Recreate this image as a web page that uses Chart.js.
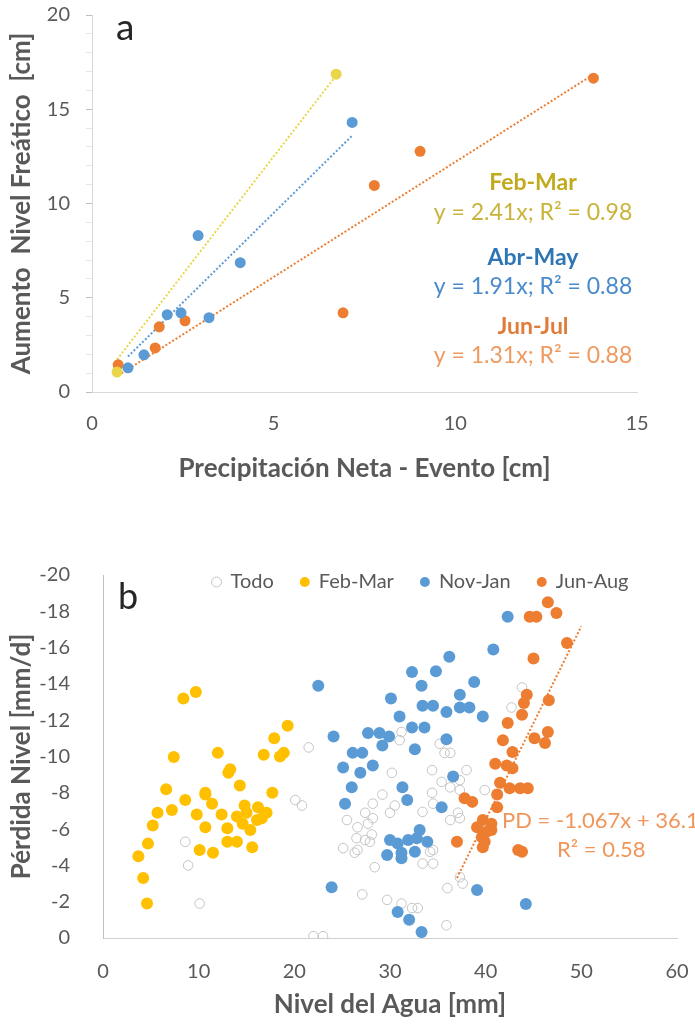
<!DOCTYPE html>
<html lang="es">
<head>
<meta charset="utf-8">
<title>Nivel freático</title>
<script src="https://cdn.jsdelivr.net/npm/chart.js@4.4.1/dist/chart.umd.min.js"></script>
<style>
    html, body { margin: 0; padding: 0; background: #fff; overflow: hidden; }
    #cajaA { position: absolute; left: 0; top: 0; width: 695px; height: 510px; }
    #cajaB { position: absolute; left: 0; top: 510px; width: 695px; height: 520px; }
</style>
</head>
<body>
<div id="cajaA"><canvas id="graficoA"></canvas></div>
<div id="cajaB"><canvas id="graficoB"></canvas></div>
<script>
// ---- Panel a: precipitación neta vs aumento del nivel ----
const febMarX = [0.69, 6.72];
const febMarY = [1.06, 16.86];
const abrMayX = [0.99, 1.43, 2.07, 2.45, 3.22, 2.92, 4.08, 7.16];
const abrMayY = [1.28, 1.97, 4.1, 4.2, 3.94, 8.3, 6.86, 14.3];
const junJulX = [0.72, 1.74, 1.85, 2.56, 6.91, 7.77, 9.03, 13.8];
const junJulY = [1.44, 2.34, 3.46, 3.78, 4.2, 10.96, 12.77, 16.65];
const seriesA = ['Feb-Mar', 'Abr-May', 'Jun-Jul'];
const ecuacionesA = ['y = 2.41x; R² = 0.98', 'y = 1.91x; R² = 0.88', 'y = 1.31x; R² = 0.88'];
const ticksXa = [0, 5, 10, 15];
const ticksYa = [0, 5, 10, 15, 20];

// ---- Panel b: nivel del agua vs pérdida de nivel ----
const todoX = [8.6, 8.9, 10.1, 22.0, 23.0, 21.5, 20.1, 20.8, 25.5, 27.1, 29.7, 28.4, 25.1, 26.6, 26.3,
    31.0, 35.2, 35.7, 36.3, 30.2, 34.4, 38.0, 35.4, 36.3, 34.4, 37.3, 29.2, 28.2, 30.0, 33.4,
    34.5, 27.4, 27.7, 26.6, 28.2, 36.3, 37.3, 34.5, 43.8, 42.7, 31.2, 37.3, 30.5, 37.1, 39.9,
    26.5, 27.4, 27.9, 34.2, 33.4, 34.5, 37.3, 36.0, 37.6, 31.2, 32.3, 32.9, 35.9, 28.1];
const todoY = [-5.3, -4.0, -1.9, -0.1, -0.1, -10.5, -7.6, -7.3, -6.5, -2.4, -2.1, -3.9, -4.95, -4.85, -4.7,
    -10.9, -10.7, -10.2, -10.2, -9.1, -9.25, -9.25, -8.6, -8.3, -8.0, -8.15, -7.9, -7.4, -6.9, -6.95,
    -7.4, -6.9, -6.3, -6.1, -6.6, -6.5, -6.6, -4.85, -13.8, -12.7, -11.35, -8.7, -7.3, -6.9, -8.15,
    -5.5, -5.4, -5.3, -4.75, -4.1, -4.1, -3.35, -2.75, -3.0, -1.9, -1.65, -1.65, -0.7, -5.7];
const febMarBX = [8.4, 9.7, 19.3, 17.9, 7.4, 12.0, 16.8, 18.9, 18.5, 13.3, 13.1, 14.3, 6.6, 17.7, 10.7,
    8.6, 10.7, 11.4, 7.2, 5.7, 9.8, 12.4, 14.0, 15.0, 16.2, 17.1, 5.2, 10.7, 13.0, 14.6,
    16.1, 4.7, 13.0, 14.0, 15.6, 10.1, 11.5, 3.7, 4.2, 4.6, 15.4, 16.6, 14.8];
const febMarBY = [-13.2, -13.55, -11.7, -11.0, -9.97, -10.2, -10.1, -10.2, -10.0, -9.3, -9.1, -8.4, -8.2, -8.0, -8.0,
    -7.6, -7.9, -7.4, -7.05, -6.9, -6.8, -6.8, -6.7, -6.9, -7.2, -6.9, -6.2, -6.1, -6.05, -6.3,
    -6.5, -5.2, -5.3, -5.3, -5.0, -4.85, -4.7, -4.5, -3.3, -1.9, -5.95, -6.6, -7.3];
const novEneX = [22.5, 42.3, 40.8, 36.2, 32.3, 34.8, 38.8, 33.3, 30.1, 37.3, 33.4, 34.5, 35.9, 37.3, 38.3,
    39.7, 31.0, 32.3, 33.6, 24.1, 27.7, 28.9, 29.9, 29.2, 35.9, 32.6, 26.1, 27.1, 25.1, 28.2,
    26.9, 26.0, 36.6, 31.3, 25.3, 31.8, 35.4, 33.1, 30.0, 30.8, 31.9, 32.8, 33.9, 31.2, 32.6,
    29.7, 31.2, 39.1, 44.2, 30.8, 32.0, 33.3, 23.9];
const novEneY = [-13.9, -17.7, -15.9, -15.5, -14.65, -14.7, -14.1, -13.9, -13.2, -13.4, -12.8, -12.8, -12.45, -12.7, -12.7,
    -12.2, -12.2, -11.6, -11.6, -11.1, -11.3, -11.3, -11.1, -10.6, -10.95, -10.4, -10.2, -10.2, -9.4, -9.5,
    -9.1, -8.3, -8.9, -8.3, -7.4, -7.6, -7.2, -5.95, -5.4, -5.2, -5.4, -5.5, -5.3, -4.7, -4.75,
    -4.57, -4.4, -2.65, -1.87, -1.43, -1.0, -0.33, -2.8];
const junAgoX = [46.5, 47.4, 45.3, 44.6, 48.5, 45.0, 44.3, 44.0, 46.6, 43.8, 42.3, 46.5, 45.1, 46.2, 41.8,
    42.8, 41.0, 42.2, 42.8, 41.5, 42.5, 43.6, 44.4, 41.2, 37.8, 38.6, 41.2, 39.7, 40.6, 39.1,
    40.1, 40.6, 39.6, 39.9, 39.7, 37.0, 43.8, 43.4];
const junAgoY = [-18.5, -17.9, -17.7, -17.7, -16.25, -15.4, -13.4, -12.95, -13.1, -12.3, -11.85, -11.35, -11.0, -10.75, -10.9,
    -10.25, -9.6, -9.5, -9.35, -8.55, -8.25, -8.25, -8.25, -7.9, -7.7, -7.5, -7.2, -6.5, -6.3, -6.1,
    -5.85, -5.95, -5.55, -5.3, -5.0, -5.3, -4.75, -4.85];
const seriesB = ['Todo', 'Feb-Mar', 'Nov-Jan', 'Jun-Aug'];
const pendientePD = -1.067;
const interceptoPD = 36.17;
const rangoPD = [37, 50];
const ecuacionPD = 'PD = -1.067x + 36.17';
const r2PD = 'R² = 0.58';
const ticksXb = [0, 10, 20, 30, 40, 50, 60];
const ticksYb = [-20, -18, -16, -14, -12, -10, -8, -6, -4, -2, 0];

// Colores
const grisTexto = '#595959';
const amarilloA = '#E9D64B';
const amarilloB = '#FFC000';
const azul = '#5B9BD5';
const naranja = '#ED7D31';

Chart.defaults.font.family = 'Lato, "Open Sans", sans-serif';
Chart.defaults.color = grisTexto;

function puntos(xs, ys) {
    return xs.map((x, i) => ({ x: x, y: ys[i] }));
}

// Recta por el origen (mínimos cuadrados), como la línea de tendencia de Excel
function tendenciaOrigen(xs, ys) {
    let sxy = 0, sxx = 0;
    xs.forEach((x, i) => { sxy += x * ys[i]; sxx += x * x; });
    const m = sxy / sxx;
    const x0 = Math.min(...xs), x1 = Math.max(...xs);
    return [{ x: x0, y: m * x0 }, { x: x1, y: m * x1 }];
}

function fijarTicks(lista) {
    return function(scale) {
        scale.ticks = lista.map(v => ({ value: v }));
    };
}

// tamaño fijo del eje sin el margen extra que añade Chart.js por las etiquetas
function anchoFijo(w) {
    return function(s) {
        s.width = w;
        s.paddingTop = 0; s.paddingBottom = 0;
    };
}
function altoFijo(h) {
    return function(s) {
        s.height = h;
        s.paddingLeft = 0; s.paddingRight = 0;
    };
}

// Plugin para textos sueltos (letra del panel, ecuaciones)
function crearTextos(items) {
    return {
        id: 'textos',
        afterDraw(chart) {
            const ctx = chart.ctx;
            items.forEach(t => {
                ctx.save();
                ctx.font = t.font;
                ctx.fillStyle = t.color;
                ctx.textAlign = t.align || 'left';
                ctx.textBaseline = 'middle';
                ctx.fillText(t.text, t.x, t.y);
                ctx.restore();
            });
        }
    };
}

function serie(label, datos, color, radio, orden) {
    return {
        label: label,
        data: datos,
        backgroundColor: color,
        borderColor: color,
        borderWidth: 0,
        pointRadius: radio,
        pointHoverRadius: radio,
        order: orden
    };
}

function tendencia(datos, color, orden) {
    return {
        label: 'tendencia',
        data: datos,
        showLine: true,
        borderColor: color,
        borderWidth: 2,
        borderDash: [2, 2],
        pointRadius: 0,
        fill: false,
        order: orden
    };
}

// ---------- Gráfico a ----------
const enteros0a20 = [];
for (let v = 0; v <= 20; v++) enteros0a20.push(v);

new Chart(document.getElementById('graficoA'), {
    type: 'scatter',
    data: {
        datasets: [
            serie(seriesA[0], puntos(febMarX, febMarY), amarilloA, 5.5, 1),
            serie(seriesA[1], puntos(abrMayX, abrMayY), azul, 5.5, 2),
            serie(seriesA[2], puntos(junJulX, junJulY), naranja, 5.5, 3),
            tendencia(tendenciaOrigen(febMarX, febMarY), amarilloA, 4),
            tendencia(tendenciaOrigen(abrMayX, abrMayY), azul, 5),
            tendencia(tendenciaOrigen(junJulX, junJulY), naranja, 6)
        ]
    },
    options: {
        responsive: true,
        maintainAspectRatio: false,
        animation: false,
        devicePixelRatio: 1,
        events: [],
        layout: { padding: { top: 15, right: 58, bottom: 22, left: 0 } },
        plugins: {
            legend: { display: false },
            tooltip: { enabled: false }
        },
        scales: {
            x: {
                type: 'linear',
                min: 0,
                max: 15,
                afterBuildTicks: fijarTicks(ticksXa),
                afterFit: altoFijo(96),
                grid: { display: false },
                border: { color: '#d9d9d9' },
                ticks: { padding: 12, font: { size: 20 }, color: grisTexto },
                title: {
                    display: true,
                    text: 'Precipitación Neta - Evento [cm]',
                    font: { size: 26, weight: 'bold' },
                    color: grisTexto
                }
            },
            y: {
                type: 'linear',
                min: 0,
                max: 20,
                afterBuildTicks: fijarTicks(enteros0a20),
                afterFit: anchoFijo(92),
                grid: {
                    drawOnChartArea: false,
                    tickLength: 6,
                    color: c => ticksYa.includes(c.tick.value) ? '#bfbfbf' : '#e6e6e6'
                },
                border: { color: '#d9d9d9' },
                ticks: {
                    padding: 16,
                    autoSkip: false,
                    font: { size: 20 },
                    color: grisTexto,
                    callback: v => ticksYa.includes(v) ? v : ''
                },
                title: {
                    display: true,
                    text: 'Aumento  Nivel Freático  [cm]',
                    font: { size: 26, weight: 'bold' },
                    color: grisTexto,
                    padding: { top: 6, bottom: 0 }
                }
            }
        }
    },
    plugins: [crearTextos([
        { text: 'a', x: 116, y: 28, font: '37px Lato', color: '#262626' },
        { text: seriesA[0], x: 533, y: 183, font: 'bold 23px Lato', color: '#C2AA1E', align: 'center' },
        { text: ecuacionesA[0], x: 533, y: 213, font: '23px Lato', color: '#C9B43A', align: 'center' },
        { text: seriesA[1], x: 533, y: 258, font: 'bold 23px Lato', color: '#2E75B6', align: 'center' },
        { text: ecuacionesA[1], x: 533, y: 287, font: '23px Lato', color: '#4A8ACB', align: 'center' },
        { text: seriesA[2], x: 533, y: 327, font: 'bold 23px Lato', color: '#E07B39', align: 'center' },
        { text: ecuacionesA[2], x: 533, y: 356, font: '23px Lato', color: '#EE9A60', align: 'center' }
    ])]
});

// ---------- Gráfico b ----------
const lineaPD = rangoPD.map(x => ({ x: x, y: pendientePD * x + interceptoPD }));

// la leyenda de Excel se sobrepone al área del gráfico: se desplaza tras el layout
const moverLeyenda = {
    id: 'moverLeyenda',
    afterLayout(chart) {
        const ley = chart.legend;
        if (!ley) return;
        ley.top += 27; ley.bottom += 27;
        ley.left += 82; ley.right += 82;
    }
};

new Chart(document.getElementById('graficoB'), {
    type: 'scatter',
    data: {
        datasets: [
            {
                label: seriesB[0],
                data: puntos(todoX, todoY),
                backgroundColor: 'rgba(255,255,255,0)',
                borderColor: '#c4c4c4',
                borderWidth: 1,
                pointRadius: 4.8,
                order: 5
            },
            serie(seriesB[1], puntos(febMarBX, febMarBY), amarilloB, 6, 4),
            serie(seriesB[2], puntos(novEneX, novEneY), azul, 6, 3),
            serie(seriesB[3], puntos(junAgoX, junAgoY), naranja, 6, 2),
            tendencia(lineaPD, naranja, 1)
        ]
    },
    options: {
        responsive: true,
        maintainAspectRatio: false,
        animation: false,
        devicePixelRatio: 1,
        events: [],
        layout: { padding: { top: 8, right: 18, bottom: 6, left: 0 } },
        plugins: {
            tooltip: { enabled: false },
            legend: {
                position: 'top',
                labels: {
                    usePointStyle: true,
                    boxWidth: 8,
                    boxHeight: 7,
                    padding: 27,
                    color: grisTexto,
                    font: { size: 20 },
                    filter: item => item.datasetIndex < 4,
                    sort: (a, b) => a.datasetIndex - b.datasetIndex
                }
            }
        },
        scales: {
            x: {
                type: 'linear',
                min: 0,
                max: 60,
                afterBuildTicks: fijarTicks(ticksXb),
                afterFit: altoFijo(86),
                grid: { display: false },
                border: { color: '#d0d0d0' },
                ticks: { padding: 14, font: { size: 20 }, color: grisTexto },
                title: {
                    display: true,
                    text: 'Nivel del Agua [mm]',
                    font: { size: 26, weight: 'bold' },
                    color: grisTexto
                }
            },
            y: {
                type: 'linear',
                min: -20,
                max: 0,
                reverse: true,
                afterBuildTicks: fijarTicks(ticksYb),
                afterFit: anchoFijo(103),
                grid: { display: false },
                border: { color: '#bfbfbf' },
                ticks: { padding: 25, autoSkip: false, font: { size: 20 }, color: grisTexto },
                title: {
                    display: true,
                    text: 'Pérdida Nivel [mm/d]',
                    font: { size: 26, weight: 'bold' },
                    color: grisTexto,
                    padding: { top: 6, bottom: 0 }
                }
            }
        }
    },
    plugins: [moverLeyenda, crearTextos([
        { text: 'b', x: 118, y: 87, font: '36px Lato', color: '#262626' },
        { text: ecuacionPD, x: 502, y: 311, font: '22px Lato', color: '#F0965A' },
        { text: r2PD, x: 557, y: 340, font: '22px Lato', color: '#F0965A' }
    ])]
});
</script>
</body>
</html>
